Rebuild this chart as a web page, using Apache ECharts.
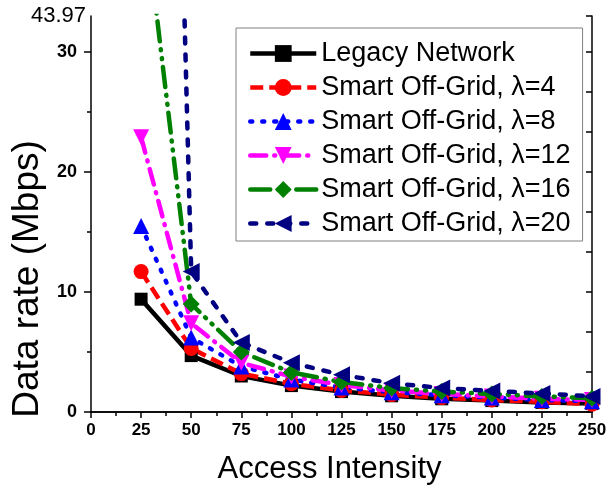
<!DOCTYPE html>
<html>
<head>
<meta charset="utf-8">
<script src="https://cdn.jsdelivr.net/npm/echarts@6/dist/echarts.min.js"></script>
<style>
html,body{margin:0;padding:0;background:#fff;}
#c{width:610px;height:498px;}
</style>
</head>
<body>
<div id="c"></div>
<script>
var categories = [25, 50, 75, 100, 125, 150, 175, 200, 225, 250];
var legacy = [9.4, 4.7, 3.0, 2.2, 1.7, 1.35, 1.1, 0.95, 0.8, 0.7];
var lambda4 = [11.7, 5.3, 3.2, 2.35, 1.8, 1.45, 1.2, 1.0, 0.85, 0.65];
var lambda8 = [15.5, 6.2, 3.8, 2.7, 2.05, 1.65, 1.4, 1.2, 1.0, 0.9];
var lambda12 = [22.9, 7.4, 4.1, 2.95, 2.25, 1.8, 1.5, 1.3, 1.1, 1.0];
var lambda16 = [43.97, 9.0, 5.0, 3.3, 2.5, 2.0, 1.7, 1.5, 1.3, 1.15];
var lambda20 = [170, 11.7, 5.8, 4.1, 3.1, 2.4, 2.0, 1.75, 1.55, 1.3];
var seriesNames = ['Legacy Network', 'Smart Off-Grid, \u03bb=4', 'Smart Off-Grid, \u03bb=8',
  'Smart Off-Grid, \u03bb=12', 'Smart Off-Grid, \u03bb=16', 'Smart Off-Grid, \u03bb=20'];
var xTicks = [0, 250, 25];
var yLabelValues = [0, 10, 20, 30];
var yMajor = [0, 10, 20, 30];
var yMinor = [5, 15, 25];
var yTopValue = 33;
var yTopLabel = '43.97';

function pairs(arr){ return categories.map(function(c,i){ return [c, arr[i]]; }); }

var FONT = 'Liberation Sans, Arial, sans-serif';
var chart = echarts.init(document.getElementById('c'), null, {renderer:'canvas'});

function mk(name, data, color, symbol, size, dash, rot, cap){
  return {
    name: name, type: 'line', data: pairs(data), xAxisIndex: 0, yAxisIndex: 0,
    symbol: symbol, symbolSize: size, symbolRotate: rot || 0, clip: true,
    lineStyle: {color: color, width: 4.5, type: dash, cap: cap || 'butt'},
    itemStyle: {color: color},
    emphasis: {disabled: true}, animation: false
  };
}

var option = {
  animation: false,
  grid: {left: 91, right: 18, top: 16, bottom: 86, containLabel: false, outerBoundsMode: 'none'},
  legend: {
    left: 236, top: 28, orient: 'vertical',
    padding: [12, 12, 4, 12],
    itemWidth: 66, itemHeight: 21, itemGap: 7,
    borderColor: '#808080', borderWidth: 1,
    backgroundColor: '#fff',
    lineStyle: {width: 4.5},
    textStyle: {fontFamily: FONT, fontSize: 27, color: '#000', lineHeight: 27},
    data: seriesNames
  },
  xAxis: [{
    type: 'value', min: xTicks[0], max: xTicks[1], interval: xTicks[2],
    position: 'bottom',
    name: 'Access Intensity', nameLocation: 'middle', nameGap: 42,
    nameTextStyle: {fontFamily: FONT, fontSize: 31, color: '#000', padding: [0, 24, 0, 0]},
    axisLine: {lineStyle: {color: '#000', width: 1.5}},
    axisTick: {inside: false, length: 6, lineStyle: {color: '#000', width: 1.5}},
    minorTick: {show: true, splitNumber: 2, length: 4, lineStyle: {color: '#000', width: 1.5}},
    axisLabel: {fontFamily: FONT, fontSize: 17, fontWeight: 'bold', color: '#000', margin: 10},
    splitLine: {show: false}
  }, {
    type: 'value', min: xTicks[0], max: xTicks[1], interval: xTicks[2],
    position: 'top',
    axisLine: {lineStyle: {color: '#000', width: 1.5}},
    axisTick: {inside: true, length: 6, lineStyle: {color: '#000', width: 1.5}},
    minorTick: {show: true, splitNumber: 2, length: 4, lineStyle: {color: '#000', width: 1.5}},
    axisLabel: {show: false}, splitLine: {show: false}
  }],
  yAxis: [{
    type: 'value', min: 0, max: yTopValue, interval: 10, position: 'left',
    name: 'Data rate (Mbps)', nameLocation: 'middle', nameGap: 36,
    nameTextStyle: {fontFamily: FONT, fontSize: 37, color: '#000', padding: [0, 130, 0, 0]},
    axisLine: {lineStyle: {color: '#000', width: 1.5}},
    axisTick: {inside: false, length: 7, customValues: yMajor, lineStyle: {color: '#000', width: 1.5}},
    axisLabel: {
      customValues: yLabelValues, margin: 14,
      fontFamily: FONT, fontSize: 18, fontWeight: 'bold', color: '#000'
    },
    splitLine: {show: false}
  }, {
    type: 'value', min: 0, max: yTopValue, interval: 10, position: 'left',
    axisLine: {show: false},
    axisTick: {inside: false, length: 4, customValues: yMinor, lineStyle: {color: '#000', width: 1.5}},
    axisLabel: {
      customValues: [yTopValue], margin: 5,
      fontFamily: FONT, fontSize: 22, color: '#000',
      formatter: function(){ return yTopLabel; }
    },
    splitLine: {show: false}
  }, {
    type: 'value', min: 0, max: yTopValue, interval: 10/3, position: 'right',
    axisLine: {lineStyle: {color: '#000', width: 1.5}},
    axisTick: {inside: true, length: 6, lineStyle: {color: '#000', width: 1.5}},
    axisLabel: {show: false}, splitLine: {show: false}
  }],
  series: [
    mk(seriesNames[0], legacy, '#000000', 'rect', 13, 'solid', 0),
    mk(seriesNames[1], lambda4, '#ff0000', 'circle', 15, [13, 6], 0),
    mk(seriesNames[2], lambda8, '#0000ff', 'triangle', 16, [2, 10], 0, 'round'),
    mk(seriesNames[3], lambda12, '#ff00ff', 'triangle', 16, [16, 8, 1, 8], 180, 'round'),
    mk(seriesNames[4], lambda16, '#008000', 'diamond', 17, [20, 8, 1, 8, 1, 8], 0, 'round'),
    mk(seriesNames[5], lambda20, '#000080', 'triangle', 17, [6, 11], 90, 'round')
  ]
};
chart.setOption(option);
</script>
</body>
</html>
